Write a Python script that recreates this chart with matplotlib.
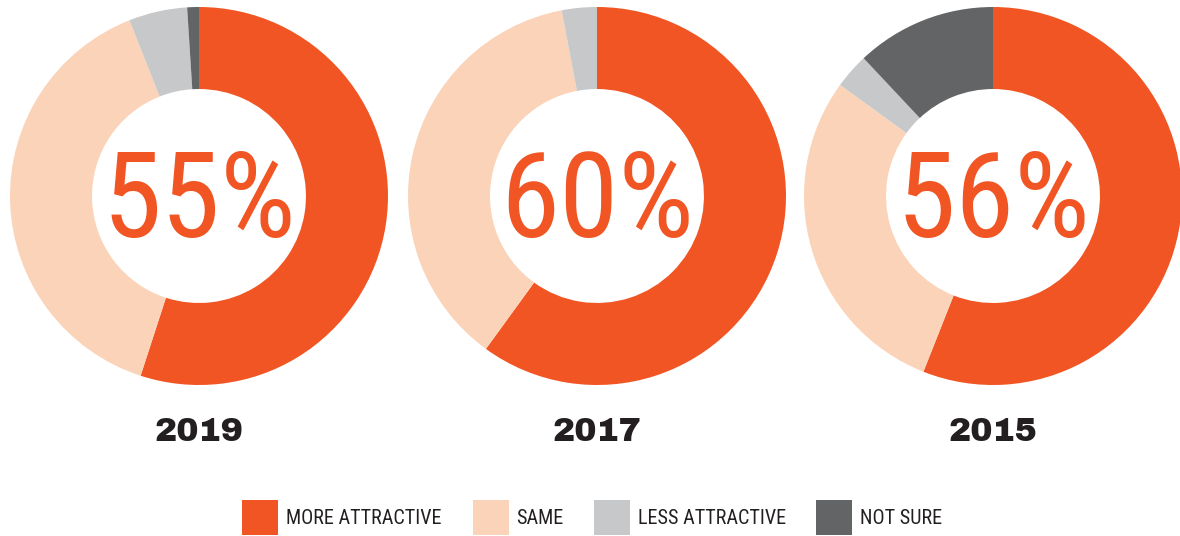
import matplotlib
matplotlib.use("Agg")
import matplotlib.pyplot as plt
from matplotlib import font_manager
from matplotlib.patches import Rectangle

# Survey results per year (percent of respondents)
years = ["2019", "2017", "2015"]
categories = ["MORE ATTRACTIVE", "SAME", "LESS ATTRACTIVE", "NOT SURE"]
more_attractive = [55, 60, 56]
same = [39, 37, 29]
less_attractive = [5, 3, 3]
not_sure = [1, 0, 12]

colors = ["#F15524", "#FBD3B9", "#C7C8CA", "#636466"]

installed = {f.name for f in font_manager.fontManager.ttflist}


def pick(*names):
    avail = [n for n in names if n in installed]
    return avail + ["DejaVu Sans"]


narrow = pick("Roboto Condensed", "Archivo Narrow", "PT Sans Narrow",
              "Fira Sans Condensed", "Barlow Condensed", "Liberation Sans")
heavy = pick("Archivo Black", "Roboto", "Liberation Sans")

W, H = 1180, 536
fig = plt.figure(figsize=(W / 100, H / 100), dpi=100)
fig.patch.set_facecolor("white")

centers_x = [199, 597, 993]
center_y = 196
radius_px = 189

for i, year in enumerate(years):
    left = (centers_x[i] - radius_px) / W
    bottom = (H - center_y - radius_px) / H
    ax = fig.add_axes([left, bottom, 2 * radius_px / W, 2 * radius_px / H])
    vals = [more_attractive[i], same[i], less_attractive[i], not_sure[i]]
    ax.pie(vals, colors=colors, startangle=90, counterclock=False,
           radius=1.0, wedgeprops=dict(width=0.434, linewidth=0))
    ax.set_xlim(-1, 1)
    ax.set_ylim(-1, 1)
    ax.set_aspect("equal")
    ax.axis("off")
    ax.text(0, -0.217, f"{more_attractive[i]}%", ha="center", va="baseline",
            fontsize=86, color="#F15524", family=narrow, fontweight="regular")

    fig.text(centers_x[i] / W, (H - 441) / H, year, ha="center", va="baseline",
             fontsize=24, fontweight="black", color="#231F20", family=heavy)

# Legend
label_x = [286, 516, 638, 860]
sq_left = [242, 473, 594, 816]
for i, cat in enumerate(categories):
    fig.patches.append(Rectangle((sq_left[i] / W, (H - 535) / H), 36 / W, 35 / H,
                                 transform=fig.transFigure, facecolor=colors[i],
                                 edgecolor="none"))
    fig.text(label_x[i] / W, (H - 524) / H, cat, ha="left", va="baseline",
             fontsize=14.5, color="#231F20", family=narrow)

fig.savefig("out.png", dpi=100, facecolor="white")
